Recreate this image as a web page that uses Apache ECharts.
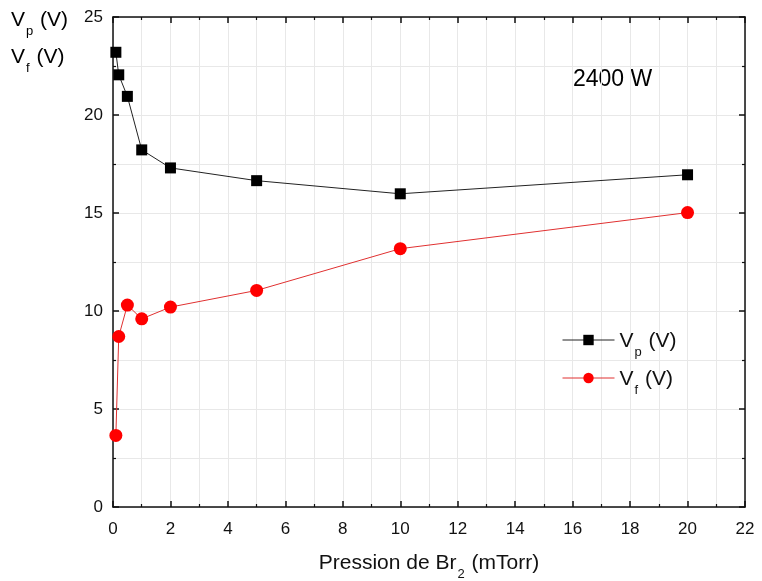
<!DOCTYPE html>
<html><head><meta charset="utf-8">
<script src="https://cdn.jsdelivr.net/npm/echarts@6/dist/echarts.min.js"></script>
<style>html,body{margin:0;padding:0;background:#fff}#c{width:762px;height:581px}</style>
</head><body><div id="c"></div>
<script>
const pressure = [0.1, 0.2, 0.5, 1, 2, 5, 10, 20];
const vp = [23.2, 22.05, 20.95, 18.22, 17.3, 16.65, 15.98, 16.95];
const vf = [3.65, 8.7, 10.3, 9.6, 10.2, 11.05, 13.18, 15.02];
const xTicks = [0, 2, 4, 6, 8, 10, 12, 14, 16, 18, 20, 22];
const yTicks = [0, 5, 10, 15, 20, 25];

const FONT = 'Liberation Sans';
const rich = {
  a: {fontSize: 21, fontFamily: FONT, color: '#111', verticalAlign: 'top', lineHeight: 26},
  b: {fontSize: 23, fontFamily: FONT, color: '#111', verticalAlign: 'top', lineHeight: 28},
  s: {fontSize: 13, fontFamily: FONT, color: '#111', verticalAlign: 'top', lineHeight: 13, padding: [15, 1, 0, 1]}
};
const chart = echarts.init(document.getElementById('c'));
const baseX = {
  type: 'value', min: 0, max: 22, interval: 2,
  axisLine: {show: true, onZero: false, lineStyle: {color: '#111', width: 1.5}},
  axisTick: {show: true, inside: true, length: 6, lineStyle: {color: '#111', width: 1.5}},
  minorTick: {show: true, splitNumber: 2, length: 3, lineStyle: {color: '#111', width: 1.2}}
};
const baseY = {
  type: 'value', min: 0, max: 25, interval: 5,
  axisLine: {show: true, onZero: false, lineStyle: {color: '#111', width: 1.5}},
  axisTick: {show: true, inside: true, length: 6, lineStyle: {color: '#111', width: 1.5}},
  minorTick: {show: true, splitNumber: 2, length: 3, lineStyle: {color: '#111', width: 1.2}}
};
const nameMap = {'Vp (V)': 'p', 'Vf (V)': 'f'};
chart.setOption({
  animation: false,
  grid: {left: 113, right: 17, top: 17, bottom: 74, containLabel: false, outerBoundsMode: 'none'},
  xAxis: [
    Object.assign({}, baseX, {
      position: 'bottom',
      axisLabel: {fontSize: 17, fontFamily: FONT, color: '#111', margin: 14,
        formatter: v => xTicks.includes(v) ? String(v) : ''},
      splitLine: {show: true, lineStyle: {color: '#e8e8e8', width: 1}},
      minorSplitLine: {show: true, lineStyle: {color: '#e8e8e8', width: 1}},
      name: '{a|Pression de Br}{s|2}{a| (mTorr)}',
      nameLocation: 'middle', nameGap: 46,
      nameTextStyle: {rich: rich}
    }),
    Object.assign({}, baseX, {position: 'top', axisLabel: {show: false}, splitLine: {show: false}})
  ],
  yAxis: [
    Object.assign({}, baseY, {
      position: 'left',
      axisLabel: {fontSize: 17, fontFamily: FONT, color: '#111', margin: 10,
        formatter: v => yTicks.includes(v) ? String(v) : ''},
      splitLine: {show: true, lineStyle: {color: '#e8e8e8', width: 1}},
      minorSplitLine: {show: true, lineStyle: {color: '#e8e8e8', width: 1}}
    }),
    Object.assign({}, baseY, {position: 'right', axisLabel: {show: false}, splitLine: {show: false}})
  ],
  legend: {
    orient: 'vertical', left: 557, top: 326, itemGap: 10,
    itemWidth: 52, itemHeight: 13,
    lineStyle: {width: 1},
    data: ['Vp (V)', 'Vf (V)'],
    formatter: n => '{a|V}{s|' + nameMap[n] + '}{a| (V)}',
    textStyle: {rich: rich, padding: [8, 0, 0, 0]}
  },
  graphic: [
    {type: 'text', left: 11, top: 10, style: {text: '{a|V}{s|p}{a| (V)}', rich: rich}},
    {type: 'text', left: 11, top: 47, style: {text: '{a|V}{s|f}{a| (V)}', rich: rich}},
    {type: 'text', left: 573, top: 68, style: {text: '{b|2400 W}', rich: rich}}
  ],
  series: [
    {name: 'Vp (V)', type: 'line', data: pressure.map((x, i) => [x, vp[i]]),
      symbol: 'rect', symbolSize: 11, lineStyle: {color: '#222', width: 1},
      itemStyle: {color: '#000'}, color: '#000'},
    {name: 'Vf (V)', type: 'line', data: pressure.map((x, i) => [x, vf[i]]),
      symbol: 'circle', symbolSize: 13, lineStyle: {color: '#e03030', width: 1},
      itemStyle: {color: '#ff0000'}, color: '#ff0000'}
  ]
});
</script></body></html>
